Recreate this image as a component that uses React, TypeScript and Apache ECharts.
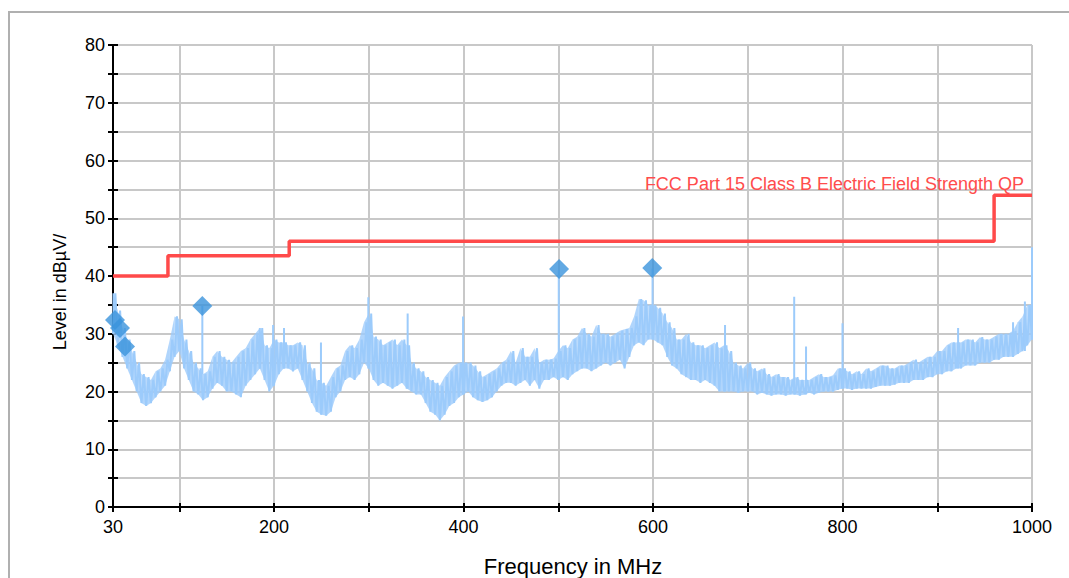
import React, { useEffect, useRef } from 'react';
import * as echarts from 'echarts';

const xTickValues = [30, 100, 200, 300, 400, 500, 600, 700, 800, 900, 1000];
const xLabelValues = [30, 200, 400, 600, 800, 1000];
const yTickStep = 5;
const yLabelStep = 10;

const limitName = 'FCC Part 15 Class B Electric Field Strength QP';
const limitEdgesMHz = [30, 88, 216, 960, 1000];
const limitLevels = [40, 43.5, 46, 54];

const traceStartMHz = 30;
const traceStepMHz = 5;
const traceLow = [
  30, 28, 26, 24, 22, 20, 18, 17.5, 18, 19,
  20, 21, 23.5, 26, 27, 24, 22, 20, 19.5, 18.5,
  19, 20.5, 21.5, 21, 20, 20, 19.5, 19, 21, 22,
  23, 24, 22, 20, 21, 23, 24, 24, 23.5, 24,
  22, 20, 18, 16.5, 16, 15.8, 16.5, 19, 20, 22,
  22.5, 22, 23, 25, 24, 22, 21, 21.5, 21, 20.5,
  21, 21.5, 20.5, 20, 19.5, 19.5, 18, 16.5, 16, 15,
  16, 17.5, 18, 19, 19.5, 20, 19, 18.5, 18.2, 18.5,
  19, 20, 21, 21.5, 21.5, 21, 21.5, 22, 21, 22,
  20.5, 22, 22, 22.5, 22, 22.5, 22, 23, 23.5, 24,
  24, 23.5, 24, 24.5, 25, 24.5, 25, 25.5, 24, 26,
  28, 28.5, 28, 29, 29, 28.5, 28, 26, 24.5, 24,
  23, 22.5, 22, 22, 21.5, 22, 21.5, 21, 20, 20,
  20, 20, 19.8, 20, 20, 20, 19.5, 19.8, 19.5, 19.3,
  19.5, 19.5, 19.3, 19.5, 19.5, 19.3, 19.5, 19.8, 19.5, 19.8,
  20, 20, 20, 20.3, 20.5, 20.5, 20.3, 20.5, 20.5, 20.5,
  20.5, 20.8, 21, 21, 21, 21.2, 21.5, 21.5, 21.5, 22,
  22, 22, 22.5, 22.5, 23, 23, 23.5, 23.5, 24, 24,
  24.5, 24.5, 24.5, 25, 25, 25, 25.5, 25.5, 26, 26,
  26, 26.5, 27, 28, 29,
];
const traceHigh = [
  37, 34, 31, 29, 27, 25, 23, 22.5, 22, 23.5,
  24, 25.5, 29, 33, 32.5, 29, 27, 25, 24, 23,
  23.5, 26, 27, 26, 25.5, 25, 26, 27, 27.5, 29,
  30, 31, 28, 27.5, 29, 28.5, 28.5, 28, 28, 28.5,
  28, 25, 24, 22, 21.5, 21, 22.5, 24, 24.5, 27,
  28, 27.5, 29, 32, 33.5, 29.5, 29, 28, 28.5, 29,
  28, 29, 28, 25, 24, 23.5, 22.5, 22, 21.5, 21,
  22.5, 23.5, 24.5, 25, 25, 25, 24.5, 23.5, 22.5, 23,
  23.5, 24, 25, 25.5, 27, 25, 27.5, 26, 26, 27.5,
  25, 25.5, 25.5, 25.7, 27, 28, 27.5, 29, 29.5, 31,
  30, 29.5, 31.5, 30, 30, 29.5, 30, 30.5, 30.8, 31,
  33, 36, 35.8, 35, 35, 34.5, 33.5, 32, 31, 29,
  29, 30, 28.5, 28, 28, 27.5, 28, 28.5, 27.5, 28,
  27, 25, 24.5, 24, 25, 24, 23.5, 24, 23, 22.5,
  23, 22.5, 22.5, 22, 22.5, 22, 22, 22, 22.5, 23,
  22.5, 22.5, 22.8, 24, 24, 23.5, 23, 23.5, 23, 24,
  23.5, 24, 24.5, 24.5, 24, 24, 24.5, 24.5, 25, 25.5,
  25, 25.5, 26, 26, 27, 27, 28, 28.5, 28.5, 28.5,
  29, 29, 28.5, 29.4, 29, 29, 29.5, 30, 30, 30,
  30.5, 32, 33, 35, 35,
];

const spikeFreqs = [30.5, 124.3, 185, 199, 210.5, 249.5, 299.5, 341, 399.5, 500.5, 599.5, 676, 749, 761.5, 800, 922, 980, 992.5, 1000];
const spikeTops = [37, 34.8, 31, 31.5, 31, 28.5, 36.3, 33.5, 33, 41, 41.3, 31.5, 36.4, 27.8, 31.8, 31, 32, 35.6, 45];
const spikeBases = [30, 23, 24, 21, 24, 16, 24, 20.5, 19.5, 22, 29, 20, 19.5, 19.5, 20.5, 24, 26, 27, 29];

const markerFreqs = [32.1, 37.4, 42.7, 124.3, 500.8, 599.2];
const markerLevels = [32.4, 31.0, 27.8, 34.8, 41.2, 41.4];

const FONT = '"Liberation Sans", Arial, Helvetica, sans-serif';
const TRACE_COLOR = '#9ccbfb';

export default function App() {
  const ref = useRef<HTMLDivElement>(null);

  useEffect(() => {
    const chart = echarts.init(ref.current!, null, { renderer: 'svg' });

    const tracePts: (number[])[] = [];
    const bandItems: (number[])[] = [];
    traceLow.forEach((lo, i) => {
      const f = traceStartMHz + i * traceStepMHz;
      tracePts.push([f, lo]);
      const fh = f + traceStepMHz / 2 <= 1000 ? f + traceStepMHz / 2 : f;
      tracePts.push([fh, traceHigh[i]]);
      if (i < traceLow.length - 1) {
        bandItems.push([f, lo, traceHigh[i], f + traceStepMHz, traceLow[i + 1], traceHigh[i + 1]]);
      }
    });

    const spikePts: any[] = [];
    spikeFreqs.forEach((f, i) => {
      spikePts.push([f, spikeBases[i]]);
      spikePts.push([f, spikeTops[i]]);
      spikePts.push('-');
    });

    const limitPts: number[][] = [];
    limitLevels.forEach((lv, i) => {
      limitPts.push([limitEdgesMHz[i], lv]);
      limitPts.push([limitEdgesMHz[i + 1], lv]);
    });

    const markerPts = markerFreqs.map((f, i) => [f, markerLevels[i]]);

    const axisLabelStyle = { color: '#000', fontSize: 18, fontFamily: FONT };

    chart.setOption({
      animation: false,
      backgroundColor: '#fff',
      grid: { left: 113, right: 37, top: 45, bottom: 71, containLabel: false },
      xAxis: [
        {
          type: 'value', min: 30, max: 1000, position: 'bottom',
          axisLine: { show: true, onZero: false, lineStyle: { color: '#000', width: 2 } },
          axisTick: { show: true, length: 5, customValues: xTickValues, lineStyle: { color: '#000', width: 2 } },
          axisLabel: { ...axisLabelStyle, margin: 11, customValues: xLabelValues, showMinLabel: true, showMaxLabel: true, formatter: (v: number) => String(v) },
          splitLine: { show: true, lineStyle: { color: '#c8c8c8', width: 2 } },
        },
        {
          type: 'value', min: 30, max: 1000, position: 'bottom',
          axisLine: { show: false, onZero: false },
          axisTick: { show: true, inside: true, length: 4, customValues: xTickValues, lineStyle: { color: '#000', width: 2 } },
          axisLabel: { show: false },
          splitLine: { show: false },
        },
      ],
      yAxis: [
        {
          type: 'value', min: 0, max: 80, interval: yTickStep, position: 'left',
          axisLine: { show: true, onZero: false, lineStyle: { color: '#000', width: 2 } },
          axisTick: { show: true, length: 5, lineStyle: { color: '#000', width: 2 } },
          axisLabel: { ...axisLabelStyle, margin: 8, formatter: (v: number) => (v % yLabelStep === 0 ? String(v) : '') },
          splitLine: { show: true, lineStyle: { color: '#c8c8c8', width: 2 } },
        },
        {
          type: 'value', min: 0, max: 80, interval: yTickStep, position: 'left',
          axisLine: { show: false, onZero: false },
          axisTick: { show: true, inside: true, length: 5, lineStyle: { color: '#000', width: 2 } },
          axisLabel: { show: false },
          splitLine: { show: false },
        },
      ],
      graphic: [
        {
          type: 'rect', silent: true, z: -10,
          shape: { x: 9, y: 12, width: 1200, height: 700 },
          style: { fill: 'none', stroke: '#b0b0b0', lineWidth: 2 },
        },
        {
          type: 'text', x: 573, y: 566, silent: true,
          style: { text: 'Frequency in MHz', fill: '#000', font: `22px ${FONT}`, textAlign: 'center', textVerticalAlign: 'middle' },
        },
        {
          type: 'text', x: 60, y: 292, rotation: Math.PI / 2, silent: true,
          style: { text: 'Level in dBµV/', fill: '#000', font: `18px ${FONT}`, textAlign: 'center', textVerticalAlign: 'middle' },
        },
        {
          type: 'text', x: 1024, y: 184, silent: true, z: 100,
          style: { text: limitName, fill: '#ff4c4c', font: `18px ${FONT}`, textAlign: 'right', textVerticalAlign: 'middle' },
        },
      ],
      series: [
        {
          type: 'custom', name: 'Band', data: bandItems, silent: true, z: 1,
          renderItem: (params: any, api: any) => {
            const p1 = api.coord([api.value(0), api.value(1)]);
            const p2 = api.coord([api.value(0), api.value(2)]);
            const p3 = api.coord([api.value(3), api.value(5)]);
            const p4 = api.coord([api.value(3), api.value(4)]);
            return {
              type: 'polygon',
              shape: { points: [p1, p2, p3, p4] },
              style: { fill: TRACE_COLOR, opacity: 0.8, stroke: 'none' },
            };
          },
        },
        {
          type: 'line', name: 'Trace', data: tracePts, showSymbol: false, symbol: 'none',
          lineStyle: { color: TRACE_COLOR, width: 2 }, z: 2,
        },
        {
          type: 'line', name: 'Spikes', data: spikePts, showSymbol: false, symbol: 'none', connectNulls: false,
          lineStyle: { color: TRACE_COLOR, width: 2 }, z: 2,
        },
        {
          type: 'line', name: limitName, data: limitPts, showSymbol: false, symbol: 'none',
          lineStyle: { color: '#ff4a4a', width: 3.5 }, z: 3,
        },
        {
          type: 'scatter', name: 'Markers', data: markerPts, symbol: 'diamond', symbolSize: 20,
          itemStyle: { color: '#3b93dc' }, z: 4,
        },
      ],
    });

    return () => chart.dispose();
  }, []);

  return <div ref={ref} style={{ position: 'absolute', left: 0, top: 0, width: 1069, height: 578 }} />;
}
